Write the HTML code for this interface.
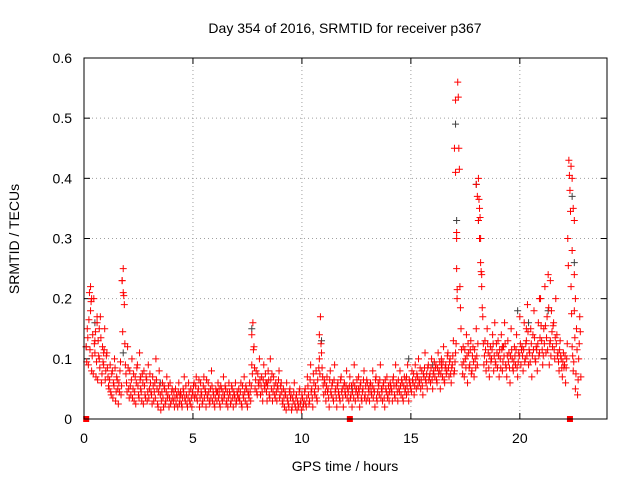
<!DOCTYPE html>
<html><head><meta charset="utf-8"><style>
body{margin:0;background:#fff}
svg text{font-family:"Liberation Sans",sans-serif;font-size:14px;fill:#000}
</style></head><body>
<svg id="chart" width="640" height="480" xmlns="http://www.w3.org/2000/svg">
<text x="345" y="33" text-anchor="middle">Day 354 of 2016, SRMTID for receiver p367</text>
<text x="345" y="471" text-anchor="middle">GPS time / hours</text>
<text transform="translate(19,239) rotate(-90)" text-anchor="middle">SRMTID / TECUs</text>
<g id="grid"></g>
<g id="ticks"></g>
<g id="marks"></g>
<rect x="84" y="58" width="523" height="361" fill="none" stroke="#000" stroke-width="1"/>
</svg>
<script>
const xTicks=[0,5,10,15,20];
const yTicks=[0,0.1,0.2,0.3,0.4,0.5,0.6];
const yTickLabels=["0","0.1","0.2","0.3","0.4","0.5","0.6"];
const startHour=0.1, stepHour=0.05;
const startHourB=0.125;
const redValues=[12,15,9,21,18,8,14,20,11,7,16,13,10,17,6,12,9,15,8,11,
7,5,9,4,8,6,10,3,7,5,6,8,4,23,25,19,9,6,12,5,
8,4,10,5,3,7,6,9,4,11,5,3,6,8,4,7,3,9,5,6,
4,7,3,6,10,5,2,8,4,3,6,2,5,3,7,4,2,6,3,5,
3,2,5,4,2,6,3,4,2,5,7,3,4,2,6,3,5,2,4,6,
4,7,3,5,2,6,4,3,7,5,2,4,6,3,5,8,3,4,2,5,
3,6,4,2,5,3,7,4,5,3,2,6,4,3,5,2,4,6,3,4,
5,3,6,2,4,7,3,5,2,4,6,3,9,16,12,5,8,4,6,10,
4,7,3,9,5,6,3,8,4,10,5,3,7,4,6,3,5,8,4,6,
3,5,2,4,6,3,2,5,4,2,3,6,2,4,3,2,5,3,4,2,
3,5,2,7,4,3,9,5,2,6,4,8,3,5,10,17,11,7,4,6,
3,7,5,2,8,4,6,3,9,5,2,6,4,3,7,5,2,6,4,8,
5,3,7,4,2,6,9,3,5,4,7,2,6,3,5,8,4,3,6,5,
3,6,4,8,5,2,7,3,6,4,9,5,3,6,2,5,7,4,3,6,
5,3,7,4,9,6,3,5,8,4,6,3,7,5,4,9,3,6,5,8,
6,4,9,5,7,10,6,5,8,4,7,11,6,5,9,7,6,10,5,8,
7,9,6,11,8,5,10,7,12,6,9,8,11,7,10,6,9,13,8,11,
31,56,45,22,15,9,12,7,10,14,6,11,9,13,8,12,7,10,15,9,
40,35,30,22,17,9,13,8,15,11,7,12,10,14,8,16,9,11,13,7,
10,14,8,12,16,9,7,13,11,6,15,10,8,12,9,14,7,11,17,9,
12,8,16,10,13,19,9,11,15,7,14,18,10,12,8,16,11,20,13,9,
15,22,11,17,24,9,13,18,12,16,10,20,14,11,8,13,10,7,11,9,
6,10,30,43,38,22,12,8,18,5,15,4,10,17,7];
const redValuesB=[9.5,13.5,16.5,11.5,19.5,10.5,7.5,12.5,14.5,9.5,6.5,10.5,8.5,13.5,7.5,9.5,11.5,6.5,10.5,8.5,
5.5,6.5,4.5,7.5,3.5,5.5,8.5,4.5,6.5,2.5,4.5,9.5,5.5,14.5,20.5,12.5,7.5,4.5,8.5,3.5,
5.5,6.5,3.5,7.5,4.5,2.5,8.5,5.5,3.5,6.5,4.5,7.5,2.5,5.5,3.5,6.5,4.5,3.5,7.5,4.5,
2.5,5.5,4.5,3.5,6.5,2.5,4.5,5.5,1.5,4.5,3.5,5.5,2.5,4.5,3.5,5.5,3.5,2.5,4.5,3.5,
4.5,3.5,2.5,3.5,4.5,2.5,4.5,2.5,3.5,4.5,3.5,5.5,2.5,3.5,4.5,2.5,3.5,4.5,5.5,3.5,
5.5,3.5,4.5,6.5,3.5,4.5,2.5,5.5,3.5,4.5,6.5,3.5,4.5,2.5,3.5,5.5,4.5,2.5,3.5,4.5,
4.5,3.5,2.5,5.5,3.5,4.5,3.5,5.5,2.5,4.5,3.5,4.5,2.5,5.5,3.5,4.5,3.5,2.5,4.5,3.5,
3.5,4.5,2.5,5.5,3.5,4.5,5.5,2.5,4.5,3.5,4.5,5.5,7.5,11.5,8.5,6.5,4.5,7.5,5.5,6.5,
5.5,4.5,6.5,5.5,7.5,4.5,5.5,6.5,3.5,6.5,7.5,4.5,5.5,3.5,4.5,5.5,6.5,3.5,5.5,4.5,
2.5,3.5,4.5,1.5,3.5,2.5,4.5,3.5,1.5,3.5,4.5,2.5,3.5,1.5,2.5,4.5,2.5,1.5,3.5,2.5,
4.5,2.5,3.5,5.5,2.5,6.5,4.5,3.5,7.5,4.5,5.5,3.5,6.5,8.5,7.5,12.5,8.5,5.5,6.5,4.5,
5.5,4.5,3.5,6.5,4.5,5.5,3.5,6.5,4.5,3.5,5.5,4.5,3.5,6.5,4.5,3.5,5.5,4.5,5.5,3.5,
4.5,5.5,3.5,5.5,4.5,3.5,5.5,4.5,6.5,3.5,4.5,5.5,3.5,4.5,6.5,3.5,5.5,6.5,3.5,4.5,
5.5,4.5,5.5,3.5,4.5,6.5,3.5,4.5,5.5,6.5,3.5,4.5,5.5,3.5,6.5,4.5,3.5,5.5,4.5,5.5,
4.5,6.5,5.5,3.5,5.5,4.5,6.5,4.5,5.5,6.5,3.5,5.5,4.5,6.5,5.5,4.5,6.5,5.5,4.5,6.5,
7.5,5.5,6.5,7.5,5.5,6.5,8.5,6.5,5.5,7.5,8.5,6.5,7.5,8.5,6.5,7.5,8.5,6.5,7.5,9.5,
8.5,6.5,8.5,7.5,9.5,7.5,8.5,9.5,6.5,8.5,7.5,10.5,8.5,9.5,7.5,8.5,10.5,7.5,9.5,12.5,
21.5,53.5,41.5,18.5,11.5,7.5,9.5,11.5,8.5,10.5,12.5,8.5,11.5,7.5,10.5,9.5,11.5,8.5,10.5,12.5,
36.5,33.5,24.5,18.5,12.5,10.5,11.5,9.5,12.5,8.5,10.5,9.5,11.5,12.5,10.5,9.5,12.5,8.5,10.5,11.5,
8.5,11.5,9.5,10.5,12.5,8.5,10.5,9.5,8.5,10.5,11.5,8.5,9.5,10.5,11.5,8.5,9.5,10.5,12.5,11.5,
10.5,11.5,9.5,12.5,10.5,14.5,11.5,9.5,12.5,10.5,11.5,13.5,9.5,11.5,12.5,10.5,13.5,15.5,11.5,10.5,
12.5,15.5,13.5,11.5,18.5,12.5,10.5,14.5,15.5,11.5,13.5,12.5,10.5,9.5,11.5,10.5,8.5,9.5,8.5,10.5,
8.5,12.5,25.5,40.5,34.5,17.5,10.5,9.5,13.5,7.5,11.5,6.5,12.5,14.5];
const extraHours=[0.3,0.35,0.6,0.7,1.75,1.8,7.7,10.8,17.05,17.05,17.1,17.1,17.12,17.0,18.0,18.05,18.1,18.15,18.2,18.25,22.35,22.4,22.45,22.5,22.4,22.5,22.55,20.9,21.4,0.5,0.9,2.6,4.4,6.2,8.4,12.6,14.8,16.4,19.2,20.3];
const extraValues=[0.22,0.2,0.17,0.15,0.23,0.21,0.14,0.14,0.53,0.41,0.3,0.25,0.2,0.45,0.39,0.37,0.33,0.3,0.26,0.24,0.42,0.4,0.35,0.33,0.28,0.24,0.2,0.2,0.23,0.13,0.11,0.07,0.04,0.05,0.06,0.05,0.07,0.09,0.12,0.15];
const blackHours=[0.1,0.5,1.8,7.7,10.9,12.3,17.05,17.1,18.0,18.1,19.9,20.4,21.3,22.4,22.5,16.0,14.9,3.5];
const blackValues=[0.12,0.16,0.11,0.15,0.13,0.05,0.49,0.33,0.39,0.33,0.18,0.16,0.18,0.37,0.26,0.09,0.1,0.06];
const flagHours=[0.1,12.2,22.3];

const X0=84,X1=607,Y0=419,Y1=58;
const xs=h=>X0+h/24*(X1-X0);
const ys=v=>Y0-v/0.6*(Y0-Y1);
const NS="http://www.w3.org/2000/svg";
function mk(tag,attrs,parent){const e=document.createElementNS(NS,tag);for(const k in attrs)e.setAttribute(k,attrs[k]);parent.appendChild(e);return e;}
const grid=document.getElementById('grid'),ticks=document.getElementById('ticks'),marks=document.getElementById('marks');
xTicks.forEach(t=>{const x=xs(t);
 if(t>0){const g=mk('line',{x1:x,x2:x,y1:Y0,y2:Y1,stroke:'#a0a0a0','stroke-dasharray':'1,3'},grid);
 
 }
 const tk=mk('line',{x1:x,x2:x,y1:Y0,y2:Y0-6,stroke:'#000'},ticks);
 
 
 const tk2=mk('line',{x1:x,x2:x,y1:Y1,y2:Y1+6,stroke:'#000'},ticks);
 
 
 const l=mk('text',{x:x,y:443,'text-anchor':'middle'},ticks);l.textContent=String(t);
 
 });
yTicks.forEach((t,i)=>{const y=ys(t);
 if(t>0&&t<0.6){const g=mk('line',{x1:X0,x2:X1,y1:y,y2:y,stroke:'#a0a0a0','stroke-dasharray':'1,3'},grid);
 
 }
 const tk=mk('line',{x1:X0,x2:X0+6,y1:y,y2:y,stroke:'#000'},ticks);
 
 
 const tk2=mk('line',{x1:X1,x2:X1-6,y1:y,y2:y,stroke:'#000'},ticks);
 
 
 const l=mk('text',{x:72,y:y+5,'text-anchor':'end'},ticks);l.textContent=yTickLabels[i];
 
 });
function plus(h,v,color,name){const x=xs(h),y=ys(v);
 const p=mk('path',{d:`M${x-3.5},${y}H${x+3.5}M${x},${y-3.5}V${y+3.5}`,stroke:color,'stroke-width':1,fill:'none'},marks);
 
 }
blackHours.forEach((h,i)=>plus(h,blackValues[i],'#404040','black-point'));
redValues.forEach((v,i)=>plus(startHour+i*stepHour,v/100,'#ff0000','red-point'));
redValuesB.forEach((v,i)=>plus(startHourB+i*stepHour,v/100,'#ff0000','red-point'));
extraHours.forEach((h,i)=>plus(h,extraValues[i],'#ff0000','red-point'));
flagHours.forEach(h=>{const r=mk('rect',{x:xs(h)-3,y:Y0-3,width:6,height:6,fill:'#ff0000'},marks);
 
 });
</script>
</body></html>
